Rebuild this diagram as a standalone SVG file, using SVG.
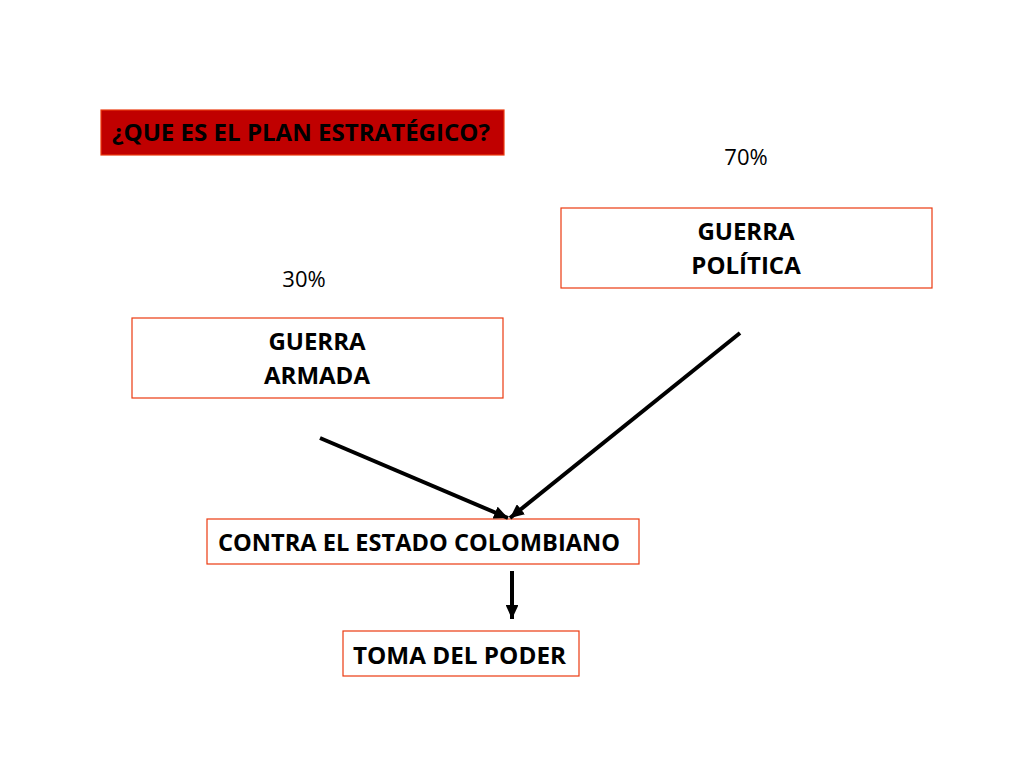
<svg xmlns="http://www.w3.org/2000/svg" width="1024" height="768" viewBox="0 0 1024 768">
<style>
.box{fill:#ffffff;stroke:#ec3a10;stroke-width:1.2}
.t{font-family:"Open Sans","Liberation Sans",sans-serif;font-weight:bold;font-size:24px;fill:#000}
.p{font-family:"Open Sans","Liberation Sans",sans-serif;font-size:22px;fill:#000}
.c{stroke:#000;stroke-width:4;fill:none}
</style>
<defs>
<marker id="ah" markerWidth="3.5" markerHeight="3.2" refX="3.5" refY="1.6" orient="auto" markerUnits="strokeWidth">
<path d="M0,0 L3.5,1.6 L0,3.2 Z" fill="#000"/>
</marker>
</defs>
<rect width="1024" height="768" fill="#fff"/>
<g id="title">
<rect x="101" y="110" width="403" height="45" fill="#c00000" stroke="#ec3a10" stroke-width="1.2"/>
<text class="t" x="112" y="141" textLength="378" lengthAdjust="spacingAndGlyphs">¿QUE ES EL PLAN ESTRATÉGICO?</text>
</g>
<g id="pct70"><text class="p" x="746" y="165" text-anchor="middle">70%</text></g>
<g id="pct30"><text class="p" x="304" y="287" text-anchor="middle">30%</text></g>
<g id="politica">
<rect class="box" x="561" y="208" width="371" height="80"/>
<text class="t" x="746" y="240" text-anchor="middle">GUERRA</text>
<text class="t" x="746" y="274" text-anchor="middle">POLÍTICA</text>
</g>
<g id="armada">
<rect class="box" x="132" y="318" width="371" height="80"/>
<text class="t" x="317" y="350" text-anchor="middle">GUERRA</text>
<text class="t" x="317" y="384" text-anchor="middle">ARMADA</text>
</g>
<g id="contra">
<rect class="box" x="207" y="519" width="432" height="45"/>
<text class="t" x="218" y="551" textLength="402" lengthAdjust="spacingAndGlyphs">CONTRA EL ESTADO COLOMBIANO</text>
</g>
<g id="toma">
<rect class="box" x="343" y="631" width="236" height="45"/>
<text class="t" x="353" y="664" textLength="213" lengthAdjust="spacingAndGlyphs">TOMA DEL PODER</text>
</g>
<g id="connectors">
<line class="c" x1="320" y1="438" x2="508" y2="518" marker-end="url(#ah)"/>
<line class="c" x1="740" y1="333" x2="510" y2="518" marker-end="url(#ah)"/>
<line class="c" x1="512" y1="571" x2="512" y2="619" marker-end="url(#ah)"/>
</g>
</svg>
